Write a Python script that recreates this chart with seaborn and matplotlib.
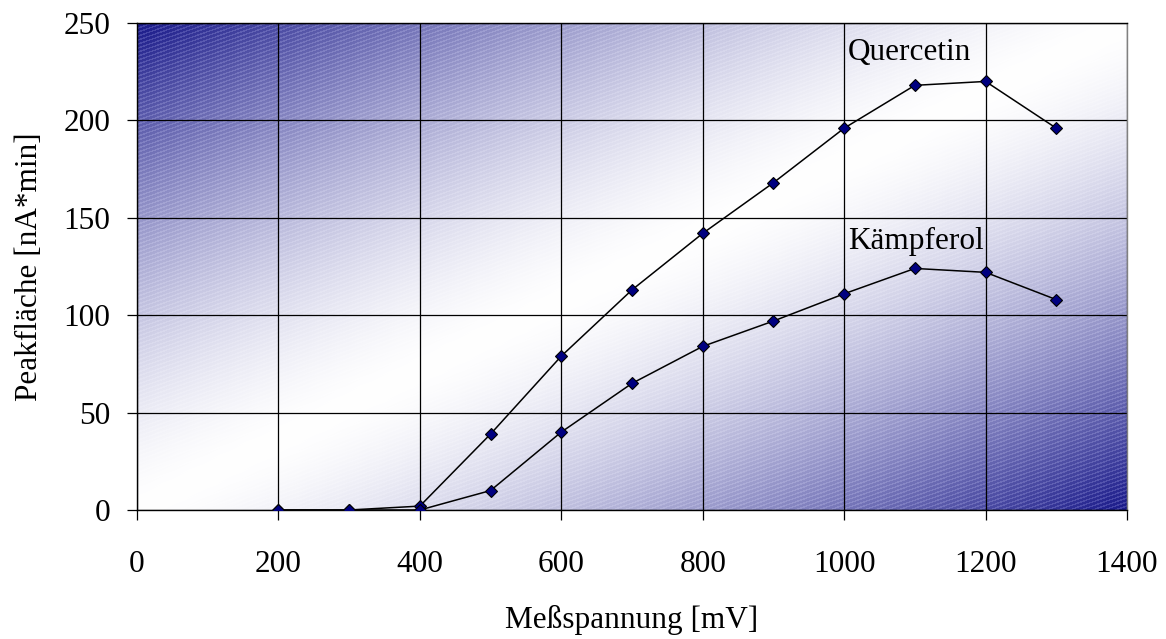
import numpy as np
import pandas as pd
import matplotlib
matplotlib.use("Agg")
import matplotlib.pyplot as plt
import seaborn as sns

# Measurement voltage [mV] and peak areas [nA*min]
spannung = [200, 300, 400, 500, 600, 700, 800, 900, 1000, 1100, 1200, 1300]
quercetin = [0, 0, 2, 39, 79, 113, 142, 168, 196, 218, 220, 196]
kaempferol = [0, 0, 0, 10, 40, 65, 84, 97, 111, 124, 122, 108]

x_ticks = [0, 200, 400, 600, 800, 1000, 1200, 1400]
y_ticks = [0, 50, 100, 150, 200, 250]

sns.set_style("ticks")
plt.rcParams["font.family"] = ["Liberation Serif", "DejaVu Serif"]
plt.rcParams["font.size"] = 22.5
plt.rcParams["text.color"] = "black"
plt.rcParams["axes.labelcolor"] = "black"
plt.rcParams["xtick.color"] = "black"
plt.rcParams["ytick.color"] = "black"

fig = plt.figure(figsize=(11.66, 6.39), dpi=100)
ax = fig.add_axes([137 / 1166, 1 - 510 / 639, 990 / 1166, 487 / 639])

# Diagonal two-sided gradient (navy corners, white diagonal) with fine stripes
W, H = 990, 487
xx, yy = np.meshgrid(np.arange(W), np.arange(H))
u = xx / (W - 1)
v = yy / (H - 1)
t = np.abs(u + v - 1.0) ** 1.5
navy = np.array([0.10, 0.10, 0.54])
img = 1.0 - t[..., None] * (1.0 - navy)[None, None, :]
stripe = (np.mod(yy + 0.35 * xx, 4.0) < 1.5).astype(float)
img = img + (stripe * 0.14 * t)[..., None] * np.array([1.0, 1.0, 0.7])
img = np.clip(img, 0, 1)
ax.imshow(img, extent=(0, 1400, 0, 250), origin="upper", aspect="auto",
          interpolation="bilinear", zorder=0)

df = pd.DataFrame({
    "Meßspannung": spannung * 2,
    "Peakfläche": quercetin + kaempferol,
    "Substanz": ["Quercetin"] * len(spannung) + ["Kämpferol"] * len(spannung),
})

for name in ["Quercetin", "Kämpferol"]:
    sub = df[df["Substanz"] == name]
    sns.lineplot(data=sub, x="Meßspannung", y="Peakfläche", ax=ax,
                 color="black", linewidth=1.1, marker="D", markersize=5.8,
                 markerfacecolor="#000080", markeredgecolor="black",
                 markeredgewidth=0.8, zorder=3, legend=False)

ax.text(1005, 235, "Quercetin", fontsize=22.5, ha="left", va="center", zorder=4)
ax.text(1005, 138, "Kämpferol", fontsize=22.5, ha="left", va="center", zorder=4)

ax.set_xlim(0, 1400)
ax.set_ylim(0, 250)
ax.set_xticks(x_ticks)
ax.set_yticks(y_ticks)
ax.grid(True, color="black", linewidth=0.9)
ax.set_axisbelow(True)
for gl in ax.get_xgridlines() + ax.get_ygridlines():
    gl.set_zorder(1)

ax.tick_params(axis="both", direction="out", length=7, width=0.9, color="black",
               labelcolor="black")
ax.tick_params(axis="y", pad=12)
ax.tick_params(axis="x", pad=22)

for side in ["top", "left", "bottom"]:
    ax.spines[side].set_color("black")
    ax.spines[side].set_linewidth(1.0)
ax.spines["right"].set_color("#808080")
ax.spines["right"].set_linewidth(1.0)

ax.set_xlabel("Meßspannung [mV]", fontsize=22.5)
ax.set_ylabel("Peakfläche [nA*min]", fontsize=22.5)
ax.xaxis.set_label_coords(0.5, -0.195)
ax.yaxis.set_label_coords(-0.094, 0.5)

fig.savefig("out.png", dpi=100)
